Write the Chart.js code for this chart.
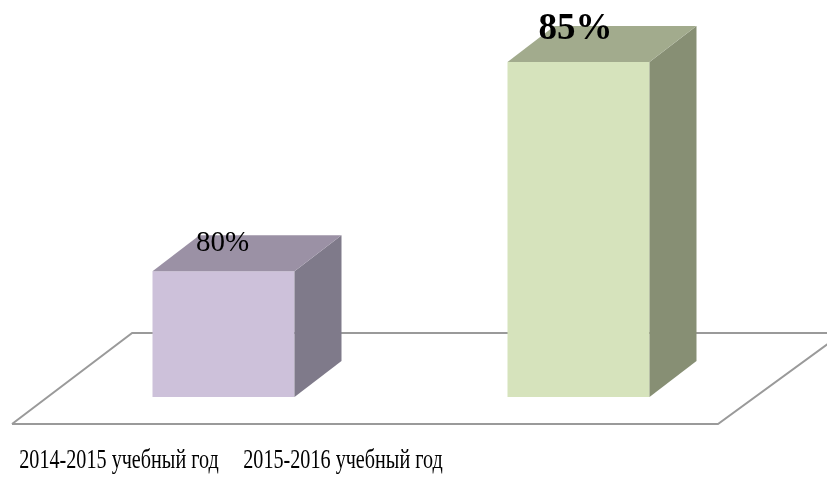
<!DOCTYPE html>
<html>
<head>
<meta charset="utf-8">
<script src="https://cdn.jsdelivr.net/npm/chart.js@4/dist/chart.umd.min.js"></script>
<style>
html,body{margin:0;padding:0;background:#fff;}
#wrap{width:827px;height:477px;position:relative;}
</style>
</head>
<body>
<div id="wrap"><canvas id="c" width="827" height="477"></canvas></div>
<script>
const categories = ["2014-2015 учебный год", "2015-2016 учебный год"];
const values = [80, 85];
const valueLabels = ["80%", "85%"];
const frontColors = ["#cdc1da", "#d6e3bc"];
const topColors = ["#9b91a5", "#a2ab8d"];
const sideColors = ["#7f7a8a", "#878f74"];

const DX = 47, DY = -36;

const threeD = {
  id: 'threeD',
  beforeDatasetsDraw(chart) {
    const ctx = chart.ctx;
    const y = chart.scales.y;
    const base = y.getPixelForValue(y.min);
    const front = base + 27, back = base - 64;
    ctx.save();
    ctx.strokeStyle = '#9a9a9a';
    ctx.lineWidth = 2;
    ctx.beginPath();
    ctx.moveTo(12, front);
    ctx.lineTo(718, front);
    ctx.lineTo(718 + (front - back) * 1.37, back);
    ctx.moveTo(12, front);
    ctx.lineTo(12 + (front - back) * 1.32, back);
    ctx.lineTo(827, back);
    ctx.stroke();
    ctx.restore();
  },
  afterDatasetsDraw(chart) {
    const ctx = chart.ctx;
    const ys = chart.scales.y;
    const b = ys.getPixelForValue(ys.min);
    const meta = chart.getDatasetMeta(0);
    ctx.save();
    meta.data.forEach((bar, i) => {
      const p = bar.getProps(['x', 'y', 'width'], true);
      const l = p.x - p.width / 2, r = p.x + p.width / 2, t = p.y;
      ctx.fillStyle = sideColors[i];
      ctx.beginPath();
      ctx.moveTo(r, t); ctx.lineTo(r + DX, t + DY); ctx.lineTo(r + DX, b + DY); ctx.lineTo(r, b);
      ctx.closePath(); ctx.fill();
      ctx.fillStyle = topColors[i];
      ctx.beginPath();
      ctx.moveTo(l, t); ctx.lineTo(l + DX, t + DY); ctx.lineTo(r + DX, t + DY); ctx.lineTo(r, t);
      ctx.closePath(); ctx.fill();
      ctx.fillStyle = '#000';
      ctx.textAlign = 'center';
      ctx.textBaseline = 'middle';
      if (i === 0) {
        ctx.font = '29px "Liberation Serif", "Times New Roman", serif';
        ctx.fillText(valueLabels[i], p.x - 1, t - 28);
      } else {
        ctx.font = 'bold 37px "Liberation Serif", "Times New Roman", serif';
        ctx.fillText(valueLabels[i], p.x - 3, t - 32);
      }
    });
    const labelCenters = [119, 343];
    ctx.font = '28px "Liberation Serif", "Times New Roman", serif';
    ctx.textBaseline = 'alphabetic';
    categories.forEach((c, i) => {
      ctx.save();
      ctx.translate(labelCenters[i], 468);
      ctx.scale(0.72, 1);
      ctx.textAlign = 'center';
      ctx.fillText(c, 0, 0);
      ctx.restore();
    });
    ctx.restore();
  }
};

new Chart(document.getElementById('c'), {
  type: 'bar',
  data: {
    labels: categories,
    datasets: [{
      data: values,
      backgroundColor: frontColors,
      borderWidth: 0,
      barPercentage: 0.4,
      categoryPercentage: 1.0,
      base: 77
    }]
  },
  options: {
    responsive: false,
    animation: false,
    layout: { padding: { left: 46, right: 71, top: 20, bottom: 80 } },
    plugins: { legend: { display: false }, tooltip: { enabled: false } },
    scales: {
      x: { display: false },
      y: { display: false, min: 77, max: 86 }
    }
  },
  plugins: [threeD]
});
</script>
</body>
</html>
